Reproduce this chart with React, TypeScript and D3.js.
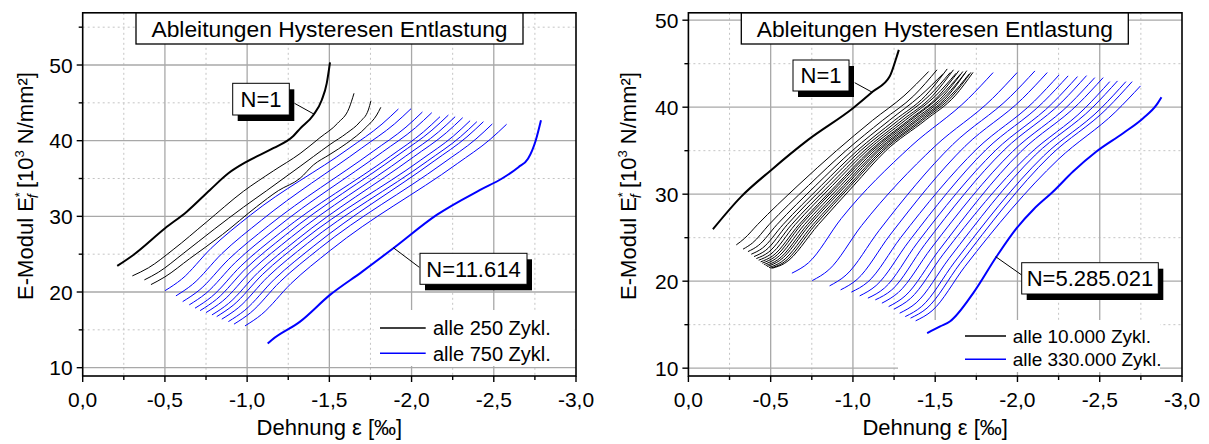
import React from 'react';
import * as d3 from 'd3';

type Pt = [number, number];

// ---------- axis ticks ----------
const xMajor = [0, 0.5, 1, 1.5, 2, 2.5, 3];
const xTickLabels = ['0,0', '-0,5', '-1,0', '-1,5', '-2,0', '-2,5', '-3,0'];
const xMinor = [0.25, 0.75, 1.25, 1.75, 2.25, 2.75];
const yMajor = [10, 20, 30, 40, 50];
const yTickLabels = ['10', '20', '30', '40', '50'];
const yMinorLeft = [15, 25, 35, 45, 55];
const yMinorRight = [15, 25, 35, 45];

// ---------- left panel data (strain magnitude ‰, E-modulus 10^3 N/mm²) ----------
const leftN1: Pt[] = [[0.21, 23.45], [0.308, 24.9], [0.501, 28.43], [0.633, 30.62], [0.774, 33.49], [0.886, 35.69], [0.998, 37.23], [1.159, 39.0], [1.281, 40.62], [1.322, 41.6], [1.403, 43.4], [1.454, 45.38], [1.484, 47.58], [1.504, 50.36]];

const leftBlack: Pt[][] = [
  [[0.302, 22.13], [0.40, 23.2], [0.55, 25.6], [0.75, 29.2], [0.977, 33.3], [1.159, 36.0], [1.322, 38.3], [1.443, 40.4], [1.55, 42.3], [1.62, 44.3], [1.65, 46.26]],
  [[0.375, 21.6], [0.46, 22.6], [0.612, 25.1], [0.80, 28.3], [0.977, 31.2], [1.119, 33.4], [1.322, 36.6], [1.403, 37.9], [1.504, 39.5], [1.606, 41.0], [1.687, 42.5], [1.737, 44.06], [1.753, 45.28]],
  [[0.415, 20.98], [0.50, 22.0], [0.65, 24.4], [0.85, 27.6], [1.058, 31.28], [1.19, 33.4], [1.322, 35.03], [1.403, 36.79], [1.504, 38.2], [1.606, 39.66], [1.727, 41.85], [1.788, 43.39], [1.813, 44.41]],
];

const leftBlue: Pt[][] = [
  [[0.501, 20.18], [0.601, 21.68], [0.781, 25.78], [1.021, 30.18], [1.620, 38.99], [1.820, 42.19], [1.920, 44.19]],
  [[0.567, 19.49], [0.667, 20.99], [0.847, 25.09], [1.087, 29.49], [1.697, 39.03], [1.897, 42.23], [1.997, 44.23]],
  [[0.608, 18.73], [0.708, 20.23], [0.888, 24.33], [1.128, 28.73], [1.766, 38.59], [1.966, 41.79], [2.066, 43.79]],
  [[0.648, 18.30], [0.748, 19.80], [0.928, 23.90], [1.168, 28.30], [1.823, 38.50], [2.023, 41.70], [2.123, 43.70]],
  [[0.683, 17.86], [0.783, 19.36], [0.963, 23.46], [1.203, 27.86], [1.873, 37.97], [2.073, 41.17], [2.173, 43.17]],
  [[0.714, 17.54], [0.814, 19.04], [0.994, 23.14], [1.234, 27.54], [1.924, 38.19], [2.124, 41.39], [2.224, 43.39]],
  [[0.750, 17.28], [0.850, 18.78], [1.030, 22.88], [1.270, 27.28], [1.965, 37.97], [2.165, 41.17], [2.265, 43.17]],
  [[0.786, 16.97], [0.886, 18.47], [1.066, 22.57], [1.306, 26.97], [2.011, 37.84], [2.211, 41.04], [2.311, 43.04]],
  [[0.815, 16.75], [0.915, 18.25], [1.095, 22.35], [1.335, 26.75], [2.056, 37.44], [2.256, 40.64], [2.356, 42.64]],
  [[0.846, 16.41], [0.946, 17.91], [1.126, 22.01], [1.366, 26.41], [2.097, 37.31], [2.297, 40.51], [2.397, 42.51]],
  [[0.886, 16.09], [0.986, 17.59], [1.166, 21.69], [1.406, 26.09], [2.137, 37.31], [2.337, 40.51], [2.437, 42.51]],
  [[0.920, 15.75], [1.020, 17.25], [1.200, 21.35], [1.440, 25.75], [2.191, 37.01], [2.391, 40.21], [2.491, 42.21]],
  [[0.987, 15.52], [1.087, 17.02], [1.267, 21.12], [1.507, 25.52], [2.278, 36.97], [2.478, 40.17], [2.578, 42.17]],
];

const leftLast: Pt[] = [[1.125, 13.2], [1.15, 13.67], [1.322, 16.09], [1.504, 19.62], [1.70, 22.7], [1.889, 25.78], [2.153, 30.19], [2.417, 33.49], [2.55, 35.0], [2.65, 36.5], [2.708, 37.6], [2.756, 40.1], [2.787, 42.7]];

// ---------- right panel data ----------
const rightN1: Pt[] = [[0.149, 25.97], [0.321, 29.72], [0.504, 32.79], [0.727, 36.24], [1.0, 39.88], [1.121, 41.79], [1.223, 43.52], [1.263, 45.63], [1.279, 46.59]];

const rightBlack: Pt[][] = [
  [[0.291, 24.17], [0.34, 24.9], [0.42, 26.5], [0.666, 31], [0.90, 35], [1.12, 38.5], [1.31, 41.3], [1.46, 44.1]],
  [[0.332, 23.68], [0.39, 24.4], [0.49, 26.5], [0.73, 31], [0.957, 35], [1.181, 38.5], [1.369, 41.3], [1.511, 44.3]],
  [[0.362, 23.40], [0.425, 24.1], [0.538, 26.5], [0.774, 31], [0.996, 35], [1.222, 38.5], [1.409, 41.3], [1.546, 43.8]],
  [[0.382, 23.10], [0.45, 23.8], [0.575, 26.5], [0.808, 31], [1.026, 35], [1.254, 38.5], [1.44, 41.3], [1.573, 44.4]],
  [[0.399, 22.83], [0.47, 23.55], [0.601, 26.5], [0.832, 31], [1.047, 35], [1.277, 38.5], [1.462, 41.3], [1.592, 44.0]],
  [[0.413, 22.60], [0.485, 23.3], [0.627, 26.5], [0.856, 31], [1.068, 35], [1.299, 38.5], [1.484, 41.3], [1.611, 44.3]],
  [[0.427, 22.41], [0.50, 23.1], [0.649, 26.5], [0.876, 31], [1.086, 35], [1.318, 38.5], [1.502, 41.3], [1.627, 43.9]],
  [[0.439, 22.22], [0.512, 22.9], [0.672, 26.5], [0.897, 31], [1.104, 35], [1.338, 38.5], [1.521, 41.3], [1.644, 44.2]],
  [[0.449, 22.07], [0.522, 22.75], [0.686, 26.5], [0.910, 31], [1.116, 35], [1.350, 38.5], [1.533, 41.3], [1.654, 43.8]],
  [[0.459, 21.91], [0.532, 22.6], [0.705, 26.5], [0.927, 31], [1.131, 35], [1.366, 38.5], [1.549, 41.3], [1.668, 44.1]],
  [[0.470, 21.79], [0.543, 22.45], [0.723, 26.5], [0.944, 31], [1.146, 35], [1.382, 38.5], [1.564, 41.3], [1.681, 43.9]],
  [[0.479, 21.68], [0.553, 22.35], [0.738, 26.5], [0.958, 31], [1.158, 35], [1.395, 38.5], [1.577, 41.3], [1.692, 44.2]],
  [[0.490, 21.56], [0.564, 22.2], [0.757, 26.5], [0.975, 31], [1.173, 35], [1.411, 38.5], [1.592, 41.3], [1.706, 43.8]],
  [[0.500, 21.49], [0.575, 22.1], [0.772, 26.5], [0.988, 31], [1.185, 35], [1.424, 38.5], [1.605, 41.3], [1.717, 44.0]],
  [[0.510, 21.49], [0.585, 22.05], [0.790, 26.5], [1.005, 31], [1.200, 35], [1.440, 38.5], [1.620, 41.3], [1.730, 44.0]],
];

const rightBlue: Pt[][] = [
  [[0.629, 20.92], [0.729, 22.1], [0.929, 27.2], [1.352, 35.5], [1.702, 41.0], [1.852, 43.98]],
  [[0.753, 20.07], [0.853, 21.3], [1.053, 26.4], [1.498, 35.5], [1.848, 41.0], [1.998, 43.98]],
  [[0.858, 19.46], [0.958, 20.7], [1.158, 25.8], [1.606, 35.7], [1.956, 41.2], [2.106, 44.17]],
  [[0.925, 19.0], [1.025, 20.2], [1.225, 25.3], [1.681, 35.5], [2.031, 41.0], [2.181, 43.98]],
  [[0.990, 18.74], [1.09, 19.9], [1.29, 25.0], [1.753, 35.2], [2.103, 40.7], [2.253, 43.71]],
  [[1.041, 18.31], [1.141, 19.5], [1.341, 24.6], [1.808, 35.1], [2.158, 40.6], [2.308, 43.6]],
  [[1.091, 18.05], [1.191, 19.2], [1.391, 24.4], [1.865, 35.0], [2.215, 40.5], [2.365, 43.52]],
  [[1.136, 17.85], [1.236, 19.0], [1.436, 24.2], [1.92, 35.1], [2.27, 40.6], [2.42, 43.63]],
  [[1.176, 17.47], [1.276, 18.7], [1.476, 23.8], [1.97, 34.9], [2.32, 40.4], [2.47, 43.4]],
  [[1.217, 17.08], [1.317, 18.3], [1.517, 23.4], [2.021, 34.9], [2.371, 40.4], [2.521, 43.4]],
  [[1.249, 16.78], [1.349, 18.0], [1.549, 23.1], [2.061, 34.4], [2.411, 39.9], [2.561, 42.94]],
  [[1.284, 16.32], [1.384, 17.5], [1.584, 22.6], [2.108, 34.5], [2.458, 40.0], [2.608, 43.02]],
  [[1.318, 15.93], [1.418, 17.1], [1.618, 22.2], [2.159, 34.4], [2.509, 39.9], [2.659, 42.94]],
  [[1.350, 15.75], [1.45, 16.9], [1.65, 22.0], [2.197, 34.4], [2.547, 39.9], [2.697, 42.94]],
  [[1.381, 15.44], [1.481, 16.6], [1.681, 21.7], [2.248, 34.0], [2.598, 39.5], [2.748, 42.45]],
];

const rightLast: Pt[] = [[1.451, 14.02], [1.53, 14.8], [1.589, 15.36], [1.731, 18.62], [1.873, 22.83], [1.995, 26.09], [2.1, 28.3], [2.217, 30.3], [2.338, 32.6], [2.48, 34.9], [2.642, 37.01], [2.764, 38.74], [2.845, 40.26], [2.875, 41.15]];

const titleText = 'Ableitungen Hysteresen Entlastung';
const leftLegend = ['alle 250 Zykl.', 'alle 750 Zykl.'];
const rightLegend = ['alle 10.000 Zykl.', 'alle 330.000 Zykl.'];
const leftFirstLabel = 'N=1';
const leftLastLabel = 'N=11.614';
const rightFirstLabel = 'N=1';
const rightLastLabel = 'N=5.285.021';

const FONT = '"Liberation Sans", Arial, Helvetica, sans-serif';

type Box = { x: number; y: number; w: number; h: number };

interface Cfg {
  x0: number; x1: number; yTop: number; yBot: number; yDom: [number, number];
  yMinor: number[];
  n1: Pt[]; black: Pt[][]; blue: Pt[][]; last: Pt[];
  blackWidth: number;
  title: Box;
  firstBox: Box; firstLabel: string; firstLeader: [number, number, number, number];
  lastBox: Box; lastLabel: string; lastLeader: [number, number, number, number];
  legendBox: Box; legendLineX: [number, number]; legendTextX: number;
  legendY: [number, number]; legendTexts: string[]; legendFont: number;
  yTitleX: number; yTitleY: number;
}

function LabelBox({ b, text }: { b: Box; text: string }) {
  return (
    <g>
      <rect x={b.x + 5} y={b.y + 6} width={b.w} height={b.h} fill="#000" />
      <rect x={b.x} y={b.y} width={b.w} height={b.h} fill="#fff" stroke="#000" strokeWidth={1} />
      <text x={b.x + b.w / 2} y={b.y + b.h / 2} dy="0.36em" textAnchor="middle" fontSize={22} fontFamily={FONT}>{text}</text>
    </g>
  );
}

function Panel({ c }: { c: Cfg }) {
  const x = d3.scaleLinear().domain([0, 3]).range([c.x0, c.x1]);
  const y = d3.scaleLinear().domain(c.yDom).range([c.yBot, c.yTop]);
  const line = d3.line<Pt>().x(d => x(d[0])).y(d => y(d[1])).curve(d3.curveMonotoneX);
  const cx = (c.x0 + c.x1) / 2;
  return (
    <g>
      {/* minor grid */}
      {xMinor.map(v => (
        <line key={'xm' + v} x1={x(v)} x2={x(v)} y1={c.yTop} y2={c.yBot} stroke="#c4c4c4" strokeWidth={1} strokeDasharray="2,3" />
      ))}
      {c.yMinor.map(v => (
        <line key={'ym' + v} x1={c.x0} x2={c.x1} y1={y(v)} y2={y(v)} stroke="#c4c4c4" strokeWidth={1} strokeDasharray="2,3" />
      ))}
      {/* major grid */}
      {xMajor.slice(1, -1).map(v => (
        <line key={'xM' + v} x1={x(v)} x2={x(v)} y1={c.yTop} y2={c.yBot} stroke="#a8a8a8" strokeWidth={1.3} />
      ))}
      {yMajor.map(v => (
        <line key={'yM' + v} x1={c.x0} x2={c.x1} y1={y(v)} y2={y(v)} stroke="#a8a8a8" strokeWidth={1.3} />
      ))}
      {/* legend background hides grid only */}
      <rect x={c.legendBox.x} y={c.legendBox.y} width={c.legendBox.w} height={c.legendBox.h} fill="#fff" />
      {/* curves */}
      {c.black.map((d, i) => (
        <path key={'b' + i} d={line(d) || ''} fill="none" stroke="#000" strokeWidth={c.blackWidth} />
      ))}
      {c.blue.map((d, i) => (
        <path key={'u' + i} d={line(d) || ''} fill="none" stroke="#0000ff" strokeWidth={1} />
      ))}
      <path d={line(c.n1) || ''} fill="none" stroke="#000" strokeWidth={2} />
      <path d={line(c.last) || ''} fill="none" stroke="#0000ff" strokeWidth={2} />
      {/* legend */}
      <line x1={c.legendLineX[0]} x2={c.legendLineX[1]} y1={c.legendY[0]} y2={c.legendY[0]} stroke="#000" strokeWidth={1.4} />
      <line x1={c.legendLineX[0]} x2={c.legendLineX[1]} y1={c.legendY[1]} y2={c.legendY[1]} stroke="#0000ff" strokeWidth={1.6} />
      {c.legendTexts.map((t, i) => (
        <text key={t} x={c.legendTextX} y={c.legendY[i]} dy="0.36em" fontSize={c.legendFont} fontFamily={FONT}>{t}</text>
      ))}
      {/* frame */}
      <rect x={c.x0} y={c.yTop} width={c.x1 - c.x0} height={c.yBot - c.yTop} fill="none" stroke="#000" strokeWidth={1.6} />
      {/* ticks */}
      {xMajor.map((v, i) => (
        <g key={'xt' + v}>
          <line x1={x(v)} x2={x(v)} y1={c.yBot} y2={c.yBot + 6} stroke="#000" strokeWidth={1.4} />
          <text x={x(v)} y={407} textAnchor="middle" fontSize={21} fontFamily={FONT}>{xTickLabels[i]}</text>
        </g>
      ))}
      {xMinor.map(v => (
        <line key={'xtm' + v} x1={x(v)} x2={x(v)} y1={c.yBot} y2={c.yBot + 4} stroke="#000" strokeWidth={1.4} />
      ))}
      {yMajor.map((v, i) => (
        <g key={'yt' + v}>
          <line x1={c.x0 - 6} x2={c.x0} y1={y(v)} y2={y(v)} stroke="#000" strokeWidth={1.4} />
          <text x={c.x0 - 10} y={y(v)} dy="0.36em" textAnchor="end" fontSize={21} fontFamily={FONT}>{yTickLabels[i]}</text>
        </g>
      ))}
      {c.yMinor.map(v => (
        <line key={'ytm' + v} x1={c.x0 - 4} x2={c.x0} y1={y(v)} y2={y(v)} stroke="#000" strokeWidth={1.4} />
      ))}
      {/* title */}
      <rect x={c.title.x} y={c.title.y} width={c.title.w} height={c.title.h} fill="#fff" stroke="#000" strokeWidth={1.3} />
      <text x={c.title.x + c.title.w / 2} y={c.title.y + c.title.h / 2} dy="0.36em" textAnchor="middle" fontSize={22.8} fontFamily={FONT}>{titleText}</text>
      {/* labels */}
      <line x1={c.firstLeader[0]} y1={c.firstLeader[1]} x2={c.firstLeader[2]} y2={c.firstLeader[3]} stroke="#000" strokeWidth={1} />
      <LabelBox b={c.firstBox} text={c.firstLabel} />
      <line x1={c.lastLeader[0]} y1={c.lastLeader[1]} x2={c.lastLeader[2]} y2={c.lastLeader[3]} stroke="#000" strokeWidth={1} />
      <LabelBox b={c.lastBox} text={c.lastLabel} />
      {/* axis titles */}
      <text x={cx} y={435} textAnchor="middle" fontSize={22} fontFamily={FONT}>Dehnung ε [‰]</text>
      <text transform={`translate(${c.yTitleX},${c.yTitleY}) rotate(-90)`} textAnchor="middle" fontSize={22} fontFamily={FONT}>
        <tspan>E-Modul E</tspan>
        <tspan dy={-9} fontSize={13}>*</tspan>
        <tspan dy={14} dx={-6} fontSize={14} fontStyle="italic">f</tspan>
        <tspan dy={-5}> [10</tspan>
        <tspan dy={-9} fontSize={13}>3</tspan>
        <tspan dy={9}> N/mm²]</tspan>
      </text>
    </g>
  );
}

const leftCfg: Cfg = {
  x0: 82.7, x1: 576, yTop: 12.8, yBot: 376, yDom: [8.9, 56.9], yMinor: yMinorLeft,
  n1: leftN1, black: leftBlack, blue: leftBlue, last: leftLast, blackWidth: 1,
  title: { x: 136, y: 13, w: 387, h: 31 },
  firstBox: { x: 232.7, y: 83.3, w: 56.6, h: 31.7 }, firstLabel: leftFirstLabel,
  firstLeader: [294.5, 103.3, 314.3, 114.3],
  lastBox: { x: 420, y: 253.3, w: 107, h: 31 }, lastLabel: leftLastLabel,
  lastLeader: [419.3, 267.3, 393.3, 247.7],
  legendBox: { x: 373.6, y: 310, w: 201, h: 56 }, legendLineX: [380, 425.7], legendTextX: 433,
  legendY: [328, 353.3], legendTexts: leftLegend, legendFont: 20,
  yTitleX: 33, yTitleY: 186,
};

const rightCfg: Cfg = {
  x0: 688.4, x1: 1182, yTop: 12.8, yBot: 376, yDom: [9.1, 50.85], yMinor: yMinorRight,
  n1: rightN1, black: rightBlack, blue: rightBlue, last: rightLast, blackWidth: 1,
  title: { x: 741.3, y: 13, w: 387, h: 31 },
  firstBox: { x: 793, y: 60, w: 56, h: 31 }, firstLabel: rightFirstLabel,
  firstLeader: [854.7, 82.7, 873, 92.7],
  lastBox: { x: 1021.7, y: 262.7, w: 136.6, h: 31.3 }, lastLabel: rightLastLabel,
  lastLeader: [1021.7, 275, 995.7, 256.7],
  legendBox: { x: 898, y: 320, w: 262, h: 52 }, legendLineX: [965, 1006], legendTextX: 1012.7,
  legendY: [336, 359.3], legendTexts: rightLegend, legendFont: 19,
  yTitleX: 636, yTitleY: 186,
};

export default function App() {
  return (
    <svg width={1209} height={444} style={{ position: 'absolute', left: 0, top: 0, background: '#fff' }}>
      <rect width={1209} height={444} fill="#fff" />
      <Panel c={leftCfg} />
      <Panel c={rightCfg} />
    </svg>
  );
}
